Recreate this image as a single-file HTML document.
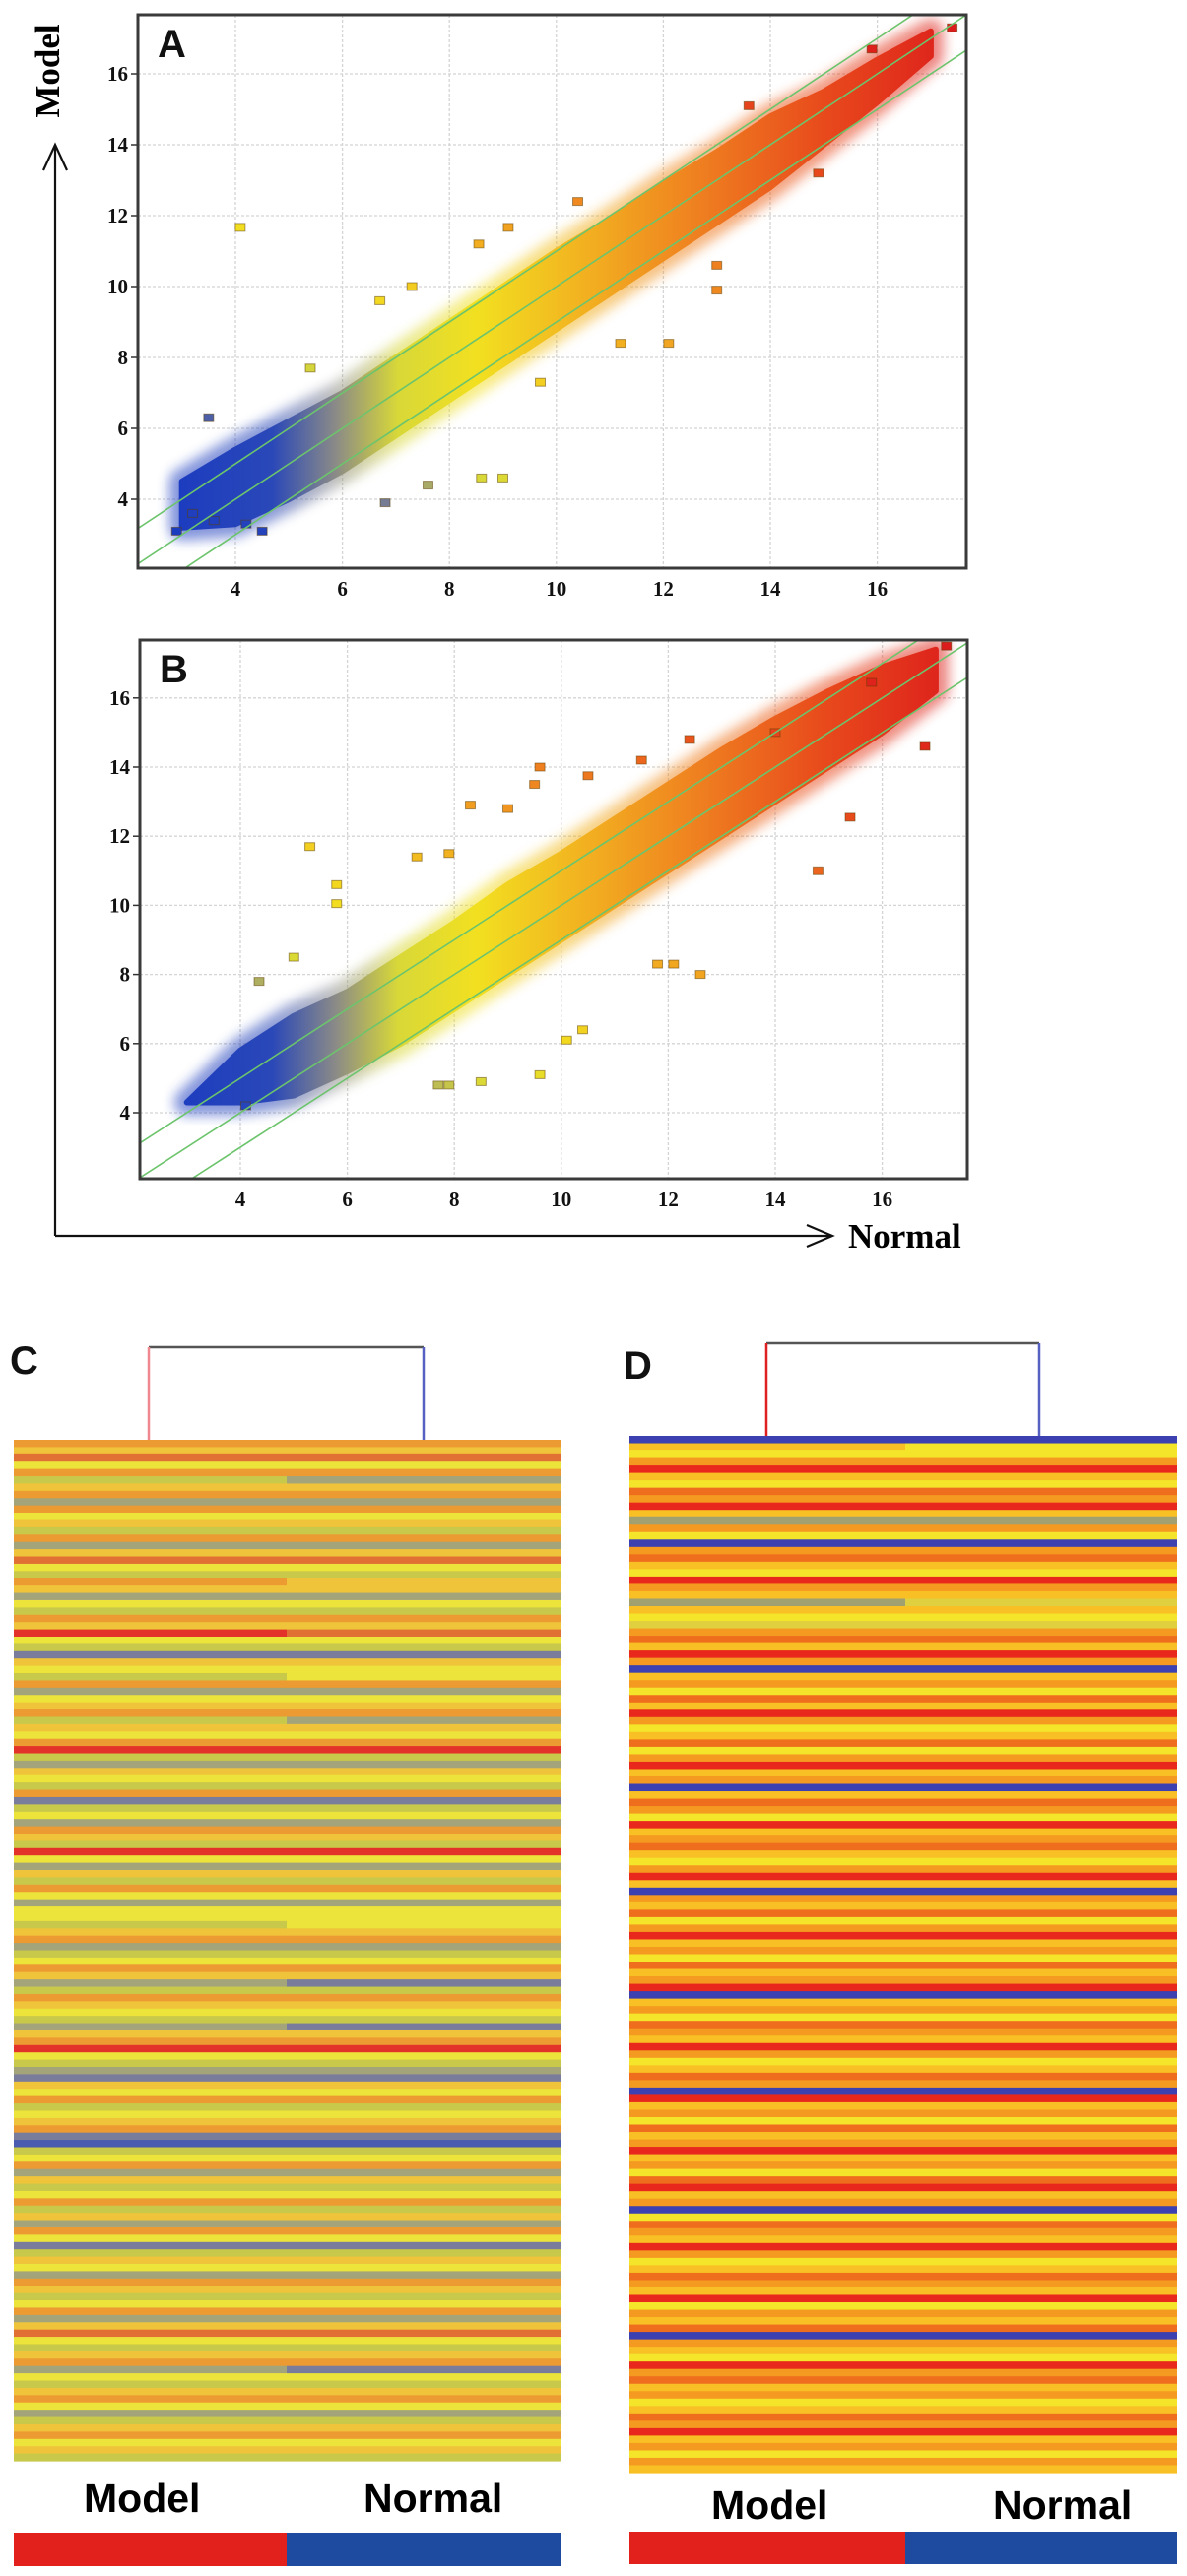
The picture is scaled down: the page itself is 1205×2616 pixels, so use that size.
<!DOCTYPE html>
<html><head><meta charset="utf-8"><style>
html,body{margin:0;padding:0;background:#fff;}
svg{display:block;}
.tk{font-family:"Liberation Serif",serif;font-weight:bold;font-size:21px;fill:#111;}
.pl{font-family:"Liberation Sans",sans-serif;font-weight:bold;font-size:40px;fill:#111;}
.hl{font-family:"Liberation Sans",sans-serif;font-weight:bold;font-size:41px;fill:#000;}
</style></head><body>
<svg id="fig" width="1205" height="2616" viewBox="0 0 1205 2616" xmlns="http://www.w3.org/2000/svg">
<defs>
<linearGradient id="gradA" gradientUnits="userSpaceOnUse" x1="180" y1="0" x2="980" y2="0">
<stop offset="0" stop-color="#1c3cc0"/><stop offset="0.12" stop-color="#2a48b8"/><stop offset="0.2" stop-color="#8a8a88"/>
<stop offset="0.28" stop-color="#d8d838"/><stop offset="0.38" stop-color="#f2e020"/><stop offset="0.52" stop-color="#f2b020"/>
<stop offset="0.66" stop-color="#ef8020"/><stop offset="0.82" stop-color="#e84a1c"/><stop offset="1" stop-color="#dc1c1c"/>
</linearGradient>
<filter id="soft" x="-5%" y="-5%" width="110%" height="110%"><feGaussianBlur stdDeviation="6"/></filter>
</defs>
<g id="plots"></g>
<g id="heat"></g>
</svg>
<script>
// ---------- Scatter data (Normal x, Model y) ----------
const bandX = [3, 4, 5, 6, 7, 8, 9, 10, 11, 12, 13, 14, 15, 16, 17];
const bandALow  = [3.2, 3.3, 4.0, 4.8, 5.8, 6.8, 7.8, 8.8, 9.8, 10.8, 11.8, 12.8, 14.0, 15.2, 16.5];
const bandAHigh = [4.5, 5.4, 6.2, 7.0, 8.0, 9.0, 10.0, 11.0, 11.9, 12.9, 13.8, 14.8, 15.5, 16.4, 17.2];
const bandBLow  = [4.3, 4.3, 4.5, 5.2, 6.0, 7.0, 8.0, 9.0, 10.0, 11.0, 12.0, 13.0, 14.0, 15.0, 16.2];
const bandBHigh = [4.3, 5.8, 6.8, 7.5, 8.5, 9.5, 10.6, 11.5, 12.5, 13.5, 14.5, 15.4, 16.2, 16.9, 17.4];
const outAX = [4.09, 8.55, 9.1, 10.4, 13.6, 14.9, 13.0, 13.0, 12.1, 11.2, 9.0, 8.6, 3.5, 6.7, 7.3, 2.9, 4.5, 6.8, 7.6, 9.7, 5.4, 15.9, 17.4, 3.2, 3.6, 4.2];
const outAY = [11.67, 11.2, 11.67, 12.4, 15.1, 13.2, 10.6, 9.9, 8.4, 8.4, 4.6, 4.6, 6.3, 9.6, 10.0, 3.1, 3.1, 3.9, 4.4, 7.3, 7.7, 16.7, 17.3, 3.6, 3.4, 3.3];
const outBX = [5.3, 5.8, 5.8, 8.3, 9.0, 9.5, 9.6, 10.5, 11.5, 12.4, 16.8, 15.4, 14.8, 12.1, 12.6, 11.8, 7.3, 7.9, 5.0, 4.35, 10.4, 10.1, 8.5, 7.9, 7.7, 9.6, 15.8, 17.2, 14.0, 4.1];
const outBY = [11.7, 10.6, 10.05, 12.9, 12.8, 13.5, 14.0, 13.75, 14.2, 14.8, 14.6, 12.55, 11.0, 8.3, 8.0, 8.3, 11.4, 11.5, 8.5, 7.8, 6.4, 6.1, 4.9, 4.8, 4.8, 5.1, 16.45, 17.5, 15.0, 4.2];
const xTicks = [4, 6, 8, 10, 12, 14, 16];
const yTicks = [4, 6, 8, 10, 12, 14, 16];

// ---------- Heatmap data (0 = blue/low ... 8 = red/high) ----------
const cModel = [6,5,7,4,6,3,5,6,2,6,4,5,3,6,2,5,7,4,3,6,5,2,4,3,6,5,8,4,3,1,5,4,3,6,2,4,5,6,3,5,4,6,8,3,2,5,4,3,6,1,3,4,2,6,5,3,8,4,2,5,3,6,4,2,4,4,3,5,6,2,3,4,6,5,2,3,6,5,4,3,2,5,6,8,4,3,2,1,5,4,6,3,4,5,6,1,0,3,4,6,2,5,3,4,6,3,5,2,6,4,1,3,5,4,2,6,5,3,4,6,2,5,7,4,3,5,6,2,4,3,5,6,4,2,3,5,6,4,5,3];
const cNormal = [6,5,7,4,6,2,5,6,2,6,4,5,3,6,2,5,7,4,3,5,5,2,4,3,6,5,7,4,3,1,5,4,4,6,2,4,5,6,2,5,4,6,8,3,2,5,4,3,6,1,3,4,2,6,5,3,8,4,2,5,3,6,4,2,4,4,4,5,6,2,3,4,6,5,1,3,6,5,4,3,1,5,6,8,4,3,2,1,5,4,6,3,4,5,6,1,0,3,4,6,2,5,3,4,6,3,5,2,6,4,1,3,5,4,2,6,5,3,4,6,2,5,7,4,3,5,6,1,4,3,5,6,4,2,3,5,6,4,5,3];
const dModel = [0,5,4,6,8,5,4,7,6,8,5,2,6,4,0,6,7,5,4,8,6,5,2,5,4,3,6,7,5,8,6,0,5,6,4,7,5,8,6,4,5,7,4,6,8,5,6,0,5,7,6,4,8,5,6,7,5,4,6,8,5,0,6,5,7,4,6,8,5,6,4,7,5,6,8,0,5,6,4,7,6,5,8,6,4,5,7,6,0,8,5,6,4,7,5,6,8,5,6,4,7,8,5,6,0,4,7,6,5,8,6,4,5,7,6,5,8,4,6,5,7,0,6,5,4,8,6,7,5,6,4,5,7,6,8,5,6,4,6,5];
const dNormal = [0,4,4,6,8,5,4,7,6,8,5,2,6,4,0,6,7,5,4,8,6,5,3,5,4,3,6,7,5,8,6,0,5,6,4,7,5,8,6,4,5,7,4,6,8,5,6,0,5,7,6,4,8,5,6,7,5,4,6,8,5,0,6,5,7,4,6,8,5,6,4,7,5,6,8,0,5,6,4,7,6,5,8,6,4,5,7,6,0,8,5,6,4,7,5,6,8,5,6,4,7,8,5,6,0,4,7,6,5,8,6,4,5,7,6,5,8,4,6,5,7,0,6,5,4,8,6,7,5,6,4,5,7,6,8,5,6,4,6,5];
const heatColorsC = ['#4a5cb0','#7a7c9c','#a4a47a','#c8c84a','#ece43a','#f0c43a','#ec9a32','#e07034','#e2322a'];
const heatColorsD = ['#3c40b0','#6a6aa0','#a0a070','#e0d040','#f4e42a','#f8c024','#f59a20','#ee6e1e','#e8281c'];

const NS = 'http://www.w3.org/2000/svg';
function mk(tag, attrs, parent){const e=document.createElementNS(NS,tag);for(const k in attrs)e.setAttribute(k,attrs[k]);parent.appendChild(e);return e;}
const plots = document.getElementById('plots');

function ptColor(v){
  const st=[[3,[28,60,192]],[4.5,[42,72,184]],[5.6,[138,138,136]],[6.6,[216,216,56]],[7.8,[242,224,32]],[9.8,[242,176,32]],[11.8,[239,128,32]],[14,[232,74,28]],[16.5,[220,28,28]]];
  if(v<=st[0][0])return 'rgb('+st[0][1]+')';
  for(let i=1;i<st.length;i++){if(v<=st[i][0]){const t=(v-st[i-1][0])/(st[i][0]-st[i-1][0]);const c=st[i-1][1].map((a,j)=>Math.round(a+(st[i][1][j]-a)*t));return 'rgb('+c+')';}}
  return 'rgb('+st[st.length-1][1]+')';
}

function scatter(name, fx, fy, bLow, bHigh, ox, oy, letter){
  const g = mk('g',{},plots);
  
  
  const L=fx[0], R=fx[1], T=fy[0], B=fy[1];
  const xs = v => fx[2] + (v - fx[3]) * fx[4];
  const ys = v => fy[2] - (v - fy[3]) * fy[4];
  const vmin = fx[3] - (fx[2]-L)/fx[4], vmax = fx[3] + (R-fx[2])/fx[4];
  const clipId = name+'-clip';
  const cp = mk('clipPath',{id:clipId},g); mk('rect',{x:L,y:T,width:R-L,height:B-T},cp);
  mk('rect',{x:L,y:T,width:R-L,height:B-T,fill:'#fff'},g);
  xTicks.forEach(t=>{
    const gl = mk('line',{x1:xs(t),x2:xs(t),y1:T,y2:B,stroke:'#d4d4d4','stroke-width':1.3,'stroke-dasharray':'3 2'},g);
    
    
    const tx = mk('text',{x:xs(t),y:B+28,'text-anchor':'middle',class:'tk'},g); tx.textContent=t;
    
    
  });
  yTicks.forEach(t=>{
    const gl = mk('line',{x1:L,x2:R,y1:ys(t),y2:ys(t),stroke:'#d4d4d4','stroke-width':1.3,'stroke-dasharray':'3 2'},g);
    
    
    mk('line',{x1:L-7,x2:L,y1:ys(t),y2:ys(t),stroke:'#333','stroke-width':1.5},g);
    const tx = mk('text',{x:L-10,y:ys(t)+7,'text-anchor':'end',class:'tk'},g); tx.textContent=t;
    
    
  });
  const inner = mk('g',{'clip-path':'url(#'+clipId+')'},g);
  let d='';
  bandX.forEach((x,i)=>{ d+=(d?'L':'M')+xs(x).toFixed(1)+','+ys(bHigh[i]).toFixed(1); });
  for(let i=bandX.length-1;i>=0;i--) d+='L'+xs(bandX[i]).toFixed(1)+','+ys(bLow[i]).toFixed(1);
  d+='Z';
  const halo = mk('path',{d:d,fill:'url(#gradA)',stroke:'url(#gradA)','stroke-width':26,'stroke-linejoin':'round',opacity:0.55,filter:'url(#soft)'},inner);
  
  
  const band = mk('path',{d:d,fill:'url(#gradA)',stroke:'url(#gradA)','stroke-width':6,'stroke-linejoin':'round'},inner);
  
  
  ox.forEach((x,i)=>{
    const r = mk('rect',{x:xs(x)-5,y:ys(oy[i])-4,width:10,height:8,fill:ptColor((x+oy[i])/2),stroke:'rgba(90,60,0,0.5)','stroke-width':1},inner);
    
    
  });
  [0,1,-1].forEach(off=>{
    const ln = mk('line',{x1:xs(vmin),y1:ys(vmin+off),x2:xs(vmax),y2:ys(vmax+off),stroke:'#6cc46c','stroke-width':1.6},inner);
    
    
  });
  const fr = mk('rect',{x:L,y:T,width:R-L,height:B-T,fill:'none',stroke:'#3a3a3a','stroke-width':3},g);
  
  
  const lt = mk('text',{x:L+20,y:T+43,class:'pl'},g); lt.textContent=letter;
  
  
}
scatter('scatter-panel-a',[140,981,239,4,54.3],[15,577,507,4,36],bandALow,bandAHigh,outAX,outAY,'A');
scatter('scatter-panel-b',[142,982,244,4,54.3],[650,1197,1130,4,35.1],bandBLow,bandBHigh,outBX,outBY,'B');

const ax = mk('g',{fill:'none',stroke:'#111','stroke-width':2.2},plots);


mk('path',{d:'M56,1255 L56,147 M44,173 L56,147 L68,173'},ax);
mk('path',{d:'M56,1255 L845,1255 M819,1244 L845,1255 L819,1266'},ax);
const ylab = mk('text',{x:0,y:0,transform:'translate(60,72) rotate(-90)','text-anchor':'middle',style:'font-family:"Liberation Serif",serif;font-weight:bold;font-size:35px'},plots);
ylab.textContent='Model';


const xlab = mk('text',{x:861,y:1267,style:'font-family:"Liberation Serif",serif;font-weight:bold;font-size:35px'},plots);
xlab.textContent='Normal';



const heat = document.getElementById('heat');
function heatmap(name, L, S, R, T, B, colA, colB, cols, letter, lx, ly, dl, dr, dTop, dlColor, mLabX, nLabX, labY, barT, barB){
  const g = mk('g',{},heat);
  
  
  const n = colA.length, h = (B-T)/n;
  colA.forEach((v,i)=>{
    const r = mk('rect',{x:L,y:T+i*h,width:S-L,height:h+0.6,fill:cols[v]},g);
    
    
  });
  colB.forEach((v,i)=>{
    const r = mk('rect',{x:S,y:T+i*h,width:R-S,height:h+0.6,fill:cols[v]},g);
    
    
  });
  const den = mk('g',{fill:'none','stroke-width':2.5},g);
  
  
  mk('line',{x1:dl,x2:dr,y1:dTop,y2:dTop,stroke:'#555'},den);
  mk('line',{x1:dl,x2:dl,y1:dTop,y2:T,stroke:dlColor},den);
  mk('line',{x1:dr,x2:dr,y1:dTop,y2:T,stroke:'#5560c0'},den);
  const lt = mk('text',{x:lx,y:ly,class:'pl','font-size':'38'},g); lt.textContent=letter;
  
  
  const m = mk('text',{x:mLabX,y:labY,class:'hl'},g); m.textContent='Model';
  
  
  const nn = mk('text',{x:nLabX,y:labY,class:'hl'},g); nn.textContent='Normal';
  
  
  const b1 = mk('rect',{x:L,y:barT,width:S-L,height:barB-barT,fill:'#e2201c'},g);
  
  
  const b2 = mk('rect',{x:S,y:barT,width:R-S,height:barB-barT,fill:'#1e4aa0'},g);
  
  
}
heatmap('heatmap-c',14,291,569,1462,2499,cModel,cNormal,heatColorsC,'C',10,1395,151,430,1368,'#f08890',85,369,2551,2572,2606);
heatmap('heatmap-d',639,919,1195,1458,2511,dModel,dNormal,heatColorsD,'D',633,1400,778,1055,1364,'#e02020',722,1008,2558,2571,2604);
</script>
</body></html>
